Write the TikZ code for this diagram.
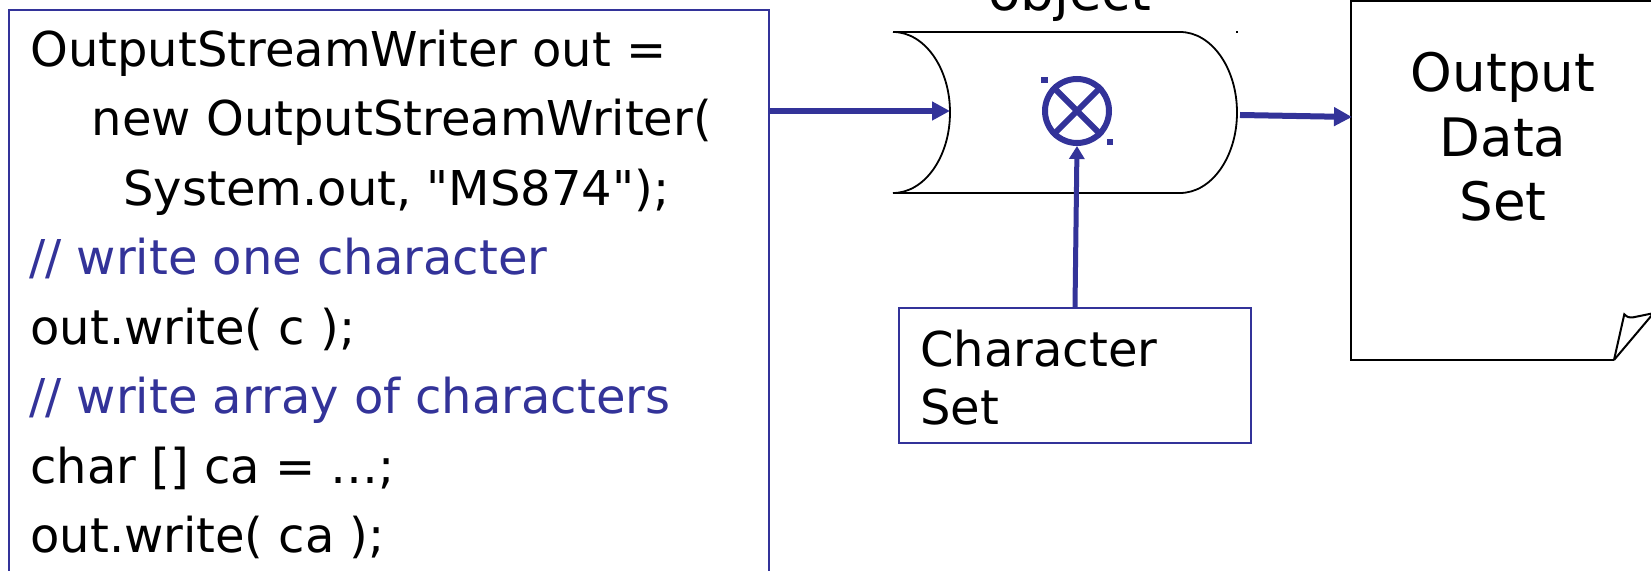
\documentclass[tikz,border=0pt]{standalone}
\usepackage{fontspec}
\setmainfont{DejaVu Sans}
\newfontfamily\plainfont{DejaVu Sans}
\usetikzlibrary{arrows.meta,calc}
\definecolor{pblue}{RGB}{51,51,153}
\begin{document}
\begin{tikzpicture}[x=0.5pt,y=-0.5pt,
  codetext/.style={anchor=base west, inner sep=0pt, font=\plainfont\fontsize{24}{28}\selectfont},
  comment/.style={codetext, text=pblue},
  bigtext/.style={anchor=base, inner sep=0pt, font=\fontsize{26.5}{31}\selectfont},
  codebox/.style={draw=pblue, line width=0.8pt, minimum width=380pt, minimum height=295pt, inner sep=0pt},
  csbox/.style={draw=pblue, line width=1pt, minimum width=176pt, minimum height=67.5pt, inner sep=0pt},
  multnode/.style={circle, draw=pblue, line width=3pt, minimum size=32pt, inner sep=0pt},
  pipeline/.style={draw=black, line width=0.9pt},
  docline/.style={draw=black, line width=1pt, line join=miter},
  arr/.style={draw=pblue, line width=3pt, -{Triangle[length=9pt,width=9pt]}},
  varr/.style={draw=pblue, line width=2.5pt, -{Triangle[length=6.5pt,width=7.5pt]}},
  handle/.style={fill=pblue}
]
\useasboundingbox (0,0) rectangle (1651,571);
\begin{scope}
\clip (0,0) rectangle (1651,571);
% code box
\node[codebox] (code) at (389,305) {};
\node[codetext] (c1) at (30,66.7) {OutputStreamWriter out =};
\node[codetext] (c2) at (91.5,136) {new OutputStreamWriter(};
\node[codetext] (c3) at (123,205.5) {System.out, "MS874");};
\node[comment]  (c4) at (29,275) {// write one character};
\node[codetext] (c5) at (30,344.5) {out.write( c );};
\node[comment]  (c6) at (29,414) {// write array of characters};
\node[codetext] (c7) at (30,483.5) {char [] ca = …;};
\node[codetext] (c8) at (30,553) {out.write( ca );};

% pipe (writer object)
\draw[pipeline] (893,32) -- (1180,32)
  arc[start angle=-90, end angle=90, x radius=57, y radius=80.5]
  -- (893,193)
  arc[start angle=90, end angle=-90, x radius=57, y radius=80.5];
\node[bigtext] (obj) at (1070,11) {object};
\coordinate (pipein) at (950,111);
\coordinate (pipeout) at (1240,115);
\fill (1235.7,30.7) rectangle (1237.7,32.7);

% multiplication symbol
\node[multnode] (mult) at (1077,111) {};
\draw[pblue, line width=3pt] (mult.45) -- (mult.225) (mult.135) -- (mult.315);
\fill[handle] (1041.3,77.3) rectangle (1048.3,83.3);
\fill[handle] (1106.5,139.2) rectangle (1112.7,145.2);

% character set
\node[csbox] (cs) at (1075,375.5) {};
\node[codetext] (cs1) at (920,367) {Character};
\node[codetext] (cs2) at (920,425) {Set};

% output data set document
\draw[docline] (1651,1) -- (1351,1) -- (1351,360) -- (1614,360);
\draw[docline] (1614,360) -- (1624.3,314.3) .. controls (1628,317.5) .. (1633.3,317.3) -- (1652,313.5);
\draw[docline] (1614,360) -- (1652,315);
\coordinate (docin) at (1352,117);
\node[bigtext] (d1) at (1503,92) {Output};
\node[bigtext] (d2) at (1503,157) {Data};
\node[bigtext] (d3) at (1503,221) {Set};

% connectors
\draw[arr] (code.east |- pipein) -- (pipein);
\draw[arr] (pipeout) -- (docin);
\draw[varr] (cs.north) -- (mult.south);
\end{scope}
\end{tikzpicture}
\end{document}
